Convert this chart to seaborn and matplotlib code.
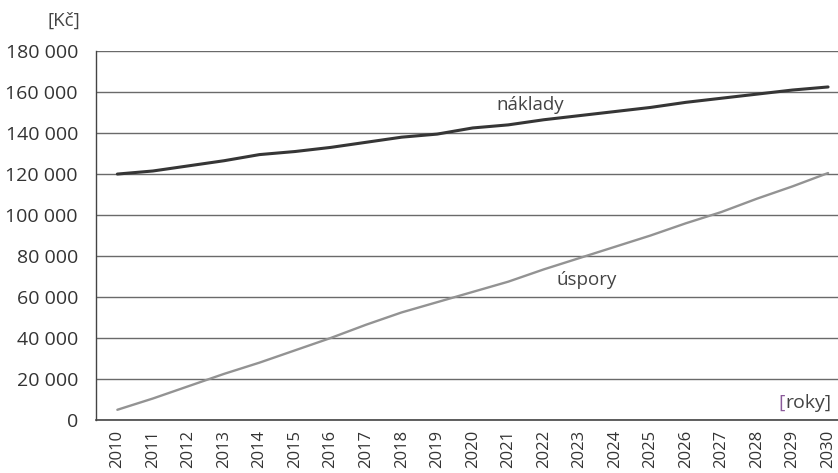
import matplotlib
matplotlib.use("Agg")
import matplotlib.pyplot as plt
import seaborn as sns
import pandas as pd

# Annual values, 2010-2030
years = list(range(2010, 2031))
naklady = [120000, 121500, 124000, 126500, 129500, 131000, 133000, 135500, 138000, 139500,
           142500, 144000, 146500, 148500, 150500, 152500, 155000, 157000, 159000, 161000, 162500]
uspory = [5000, 10500, 16500, 22500, 28000, 34000, 40000, 46500, 52500, 57500,
          62500, 67500, 73500, 79000, 84500, 90000, 96000, 101500, 108000, 114000, 120500]
y_ticks = [0, 20000, 40000, 60000, 80000, 100000, 120000, 140000, 160000, 180000]

df = pd.DataFrame({
    "rok": years * 2,
    "hodnota": naklady + uspory,
    "serie": ["náklady"] * len(years) + ["úspory"] * len(years),
})

sns.set_style("white")
plt.rcParams["font.family"] = ["Open Sans", "DejaVu Sans"]

fig = plt.figure(figsize=(8.38, 4.73), dpi=100)
ax = fig.add_axes([0.1146, 0.112, 0.899, 0.780])

sns.lineplot(data=df, x="rok", y="hodnota", hue="serie",
             palette={"náklady": "#363636", "úspory": "#939393"},
             ax=ax, legend=False)
for line, lw in zip(ax.get_lines(), [2.2, 1.7]):
    line.set_linewidth(lw)

ax.set_xlim(2009.4, 2030.6)
ax.set_ylim(0, 180000)
ax.set_yticks(y_ticks)
ax.set_yticklabels([f"{v:,}".replace(",", " ") for v in y_ticks], fontsize=14, color="#333333")
ax.set_xticks(years)
ax.set_xticklabels([str(y) for y in years], rotation=90, fontsize=12, color="#333333")
ax.tick_params(axis="y", length=0, pad=13)
ax.tick_params(axis="x", length=0, pad=7)
ax.set_xlabel("")
ax.set_ylabel("")

ax.yaxis.grid(True, color="#6a6a6a", linewidth=1.0)
ax.set_axisbelow(True)
for side in ["top", "right"]:
    ax.spines[side].set_visible(False)
ax.spines["left"].set_color("#444444")
ax.spines["left"].set_linewidth(1.0)
ax.spines["bottom"].set_color("#444444")
ax.spines["bottom"].set_linewidth(1.2)

ax.text(2021.63, 153500, "náklady", fontsize=13.5, color="#444444", ha="center", va="center")
ax.text(2023.2, 68500, "úspory", fontsize=13.5, color="#444444", ha="center", va="center")
ax.text(2028.6, 8300, "[", fontsize=14, color="#8a5a9a", ha="left", va="center")
ax.text(2028.8, 8300, "roky]", fontsize=14, color="#444444", ha="left", va="center")

fig.text(0.096, 0.957, "[Kč]", fontsize=13.5, color="#444444", ha="right", va="center")

fig.savefig("out.png", dpi=100)
